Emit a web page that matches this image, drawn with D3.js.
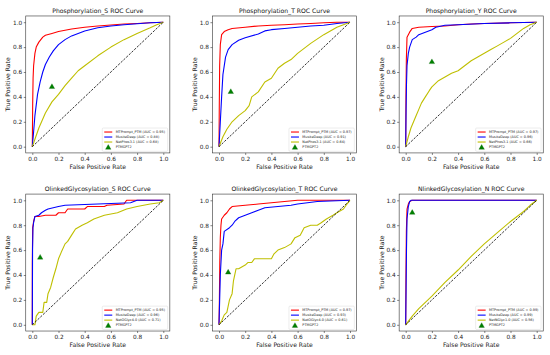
<!DOCTYPE html>
<html>
<head>
<meta charset="utf-8">
<script src="https://cdn.jsdelivr.net/npm/d3@7"></script>
<style>
body { margin: 0; background: #fff; }
text { font-family: "DejaVu Sans", sans-serif; }
</style>
</head>
<body>
<div id="chart"></div>
<script>
var titles = ["Phosphorylation_S ROC Curve", "Phosphorylation_T ROC Curve", "Phosphorylation_Y ROC Curve",
              "OlinkedGlycosylation_S ROC Curve", "OlinkedGlycosylation_T ROC Curve", "NlinkedGlycosylation_N ROC Curve"];
var baselineNames = ["NetPhos3.1", "NetPhos3.1", "NetPhos3.1", "NetOGlyc4.0", "NetOGlyc4.0", "NetNGlyc1.0"];
var mtpromptAuc = [0.95, 0.97, 0.97, 0.95, 0.97, 0.99];
var musiteAuc = [0.88, 0.91, 0.96, 0.96, 0.93, 0.99];
var baselineAuc = [0.68, 0.64, 0.66, 0.71, 0.61, 0.56];
var ptmgpt2Points = [[0.15, 0.48], [0.09, 0.44], [0.2, 0.68], [0.06, 0.54], [0.07, 0.42], [0.05, 0.9]];
var tickValues = [0, 0.2, 0.4, 0.6, 0.8, 1.0];

// [fpr, tpr]
var phosS_mtprompt = [[0,0],[0.003,0.35],[0.006,0.55],[0.01,0.65],[0.02,0.75],[0.03,0.8],[0.05,0.84],[0.08,0.88],[0.1,0.895],[0.15,0.91],[0.2,0.925],[0.3,0.945],[0.4,0.96],[0.5,0.97],[0.6,0.978],[0.7,0.985],[0.8,0.99],[0.9,0.995],[1,1]];
var phosS_musite = [[0,0],[0.01,0.12],[0.02,0.25],[0.04,0.42],[0.06,0.52],[0.08,0.6],[0.1,0.66],[0.13,0.72],[0.16,0.77],[0.2,0.82],[0.25,0.86],[0.3,0.89],[0.4,0.93],[0.5,0.955],[0.6,0.97],[0.7,0.98],[0.8,0.988],[0.9,0.995],[1,1]];
var phosS_base = [[0,0],[0.02,0.06],[0.05,0.15],[0.1,0.27],[0.15,0.36],[0.2,0.42],[0.25,0.49],[0.3,0.55],[0.35,0.61],[0.4,0.65],[0.5,0.73],[0.6,0.8],[0.7,0.86],[0.8,0.91],[0.9,0.955],[0.95,0.98],[1,1]];

var phosT_mtprompt = [[0,0],[0.002,0.3],[0.005,0.65],[0.01,0.82],[0.02,0.9],[0.04,0.925],[0.07,0.94],[0.1,0.95],[0.2,0.96],[0.3,0.97],[0.4,0.975],[0.5,0.98],[0.6,0.985],[0.7,0.99],[0.8,0.995],[0.9,1],[1,1]];
var phosT_musite = [[0,0],[0.01,0.2],[0.02,0.4],[0.03,0.58],[0.05,0.72],[0.07,0.78],[0.1,0.82],[0.15,0.855],[0.2,0.875],[0.3,0.905],[0.35,0.93],[0.4,0.94],[0.5,0.95],[0.6,0.96],[0.7,0.97],[0.8,0.975],[0.9,0.99],[1,1]];
var phosT_base = [[0,0],[0.03,0.08],[0.06,0.14],[0.1,0.2],[0.15,0.25],[0.2,0.29],[0.23,0.33],[0.25,0.4],[0.3,0.44],[0.35,0.52],[0.4,0.55],[0.45,0.63],[0.5,0.67],[0.55,0.7],[0.6,0.75],[0.65,0.79],[0.7,0.83],[0.8,0.9],[0.9,0.96],[0.95,0.98],[1,1]];

var phosY_mtprompt = [[0,0],[0.002,0.4],[0.005,0.7],[0.01,0.88],[0.02,0.9],[0.03,0.92],[0.05,0.95],[0.1,0.96],[0.2,0.965],[0.3,0.97],[0.4,0.98],[0.5,0.985],[0.6,0.99],[0.8,0.995],[1,1]];
var phosY_musite = [[0,0],[0.003,0.3],[0.006,0.5],[0.01,0.65],[0.02,0.75],[0.03,0.8],[0.05,0.86],[0.08,0.88],[0.1,0.9],[0.15,0.92],[0.2,0.94],[0.23,0.96],[0.3,0.975],[0.4,0.98],[0.6,0.99],[0.8,0.995],[1,1]];
var phosY_base = [[0,0],[0.02,0.08],[0.04,0.15],[0.06,0.2],[0.08,0.25],[0.1,0.3],[0.12,0.35],[0.15,0.4],[0.18,0.45],[0.2,0.48],[0.22,0.5],[0.25,0.53],[0.3,0.56],[0.35,0.59],[0.4,0.61],[0.45,0.65],[0.5,0.69],[0.55,0.72],[0.6,0.75],[0.65,0.78],[0.7,0.81],[0.75,0.84],[0.8,0.87],[0.85,0.91],[0.9,0.95],[0.95,0.98],[1,1]];

var oglycS_mtprompt = [[0,0],[0,0.5],[0.003,0.78],[0.01,0.83],[0.02,0.87],[0.05,0.87],[0.1,0.88],[0.18,0.88],[0.2,0.9],[0.25,0.9],[0.27,0.93],[0.4,0.93],[0.42,0.95],[0.55,0.95],[0.57,0.96],[0.7,0.97],[0.72,1],[1,1]];
var oglycS_musite = [[0,0],[0.002,0.6],[0.005,0.78],[0.01,0.82],[0.02,0.87],[0.05,0.88],[0.07,0.9],[0.1,0.92],[0.12,0.93],[0.2,0.95],[0.25,0.96],[0.5,0.97],[0.75,0.98],[0.8,1],[1,1]];
var oglycS_base = [[0,0],[0.02,0],[0.03,0.07],[0.05,0.1],[0.08,0.1],[0.09,0.18],[0.11,0.18],[0.12,0.25],[0.14,0.3],[0.16,0.38],[0.18,0.45],[0.2,0.53],[0.22,0.58],[0.25,0.65],[0.27,0.67],[0.3,0.72],[0.33,0.77],[0.38,0.8],[0.42,0.82],[0.47,0.85],[0.55,0.88],[0.65,0.9],[0.72,0.93],[0.8,0.95],[0.9,0.97],[0.97,0.98],[1,1]];

var oglycT_mtprompt = [[0,0],[0.003,0.2],[0.006,0.5],[0.01,0.7],[0.015,0.8],[0.02,0.85],[0.04,0.88],[0.06,0.9],[0.08,0.93],[0.1,0.95],[0.2,0.96],[0.3,0.97],[0.4,0.98],[0.5,0.99],[0.6,1],[1,1]];
var oglycT_musite = [[0,0],[0.005,0.2],[0.01,0.4],[0.02,0.6],[0.03,0.65],[0.04,0.75],[0.08,0.78],[0.1,0.8],[0.12,0.83],[0.15,0.86],[0.2,0.88],[0.25,0.9],[0.3,0.92],[0.35,0.94],[0.45,0.95],[0.55,0.96],[0.6,0.97],[0.75,0.99],[1,1]];
var oglycT_base = [[0,0],[0.02,0.03],[0.04,0.08],[0.06,0.1],[0.08,0.2],[0.1,0.25],[0.11,0.35],[0.13,0.45],[0.15,0.45],[0.2,0.48],[0.22,0.5],[0.25,0.5],[0.27,0.53],[0.4,0.53],[0.42,0.57],[0.45,0.6],[0.5,0.62],[0.55,0.65],[0.58,0.7],[0.62,0.72],[0.65,0.78],[0.7,0.8],[0.75,0.8],[0.78,0.82],[0.82,0.85],[0.87,0.88],[0.9,0.9],[0.95,0.93],[0.97,0.96],[1,1]];

var nglycN_mtprompt = [[0,0],[0.002,0.4],[0.005,0.75],[0.01,0.93],[0.02,0.97],[0.03,0.99],[0.05,1],[1,1]];
var nglycN_musite = [[0,0],[0.003,0.3],[0.006,0.6],[0.01,0.85],[0.02,0.95],[0.03,0.99],[0.04,1],[1,1]];
var nglycN_base = [[0,0],[0.05,0.07],[0.1,0.13],[0.2,0.23],[0.3,0.34],[0.4,0.44],[0.5,0.55],[0.6,0.65],[0.7,0.74],[0.8,0.83],[0.9,0.91],[0.95,0.96],[1,1]];

var mtpromptCurves = [phosS_mtprompt, phosT_mtprompt, phosY_mtprompt, oglycS_mtprompt, oglycT_mtprompt, nglycN_mtprompt];
var musiteCurves = [phosS_musite, phosT_musite, phosY_musite, oglycS_musite, oglycT_musite, nglycN_musite];
var baselineCurves = [phosS_base, phosT_base, phosY_base, oglycS_base, oglycT_base, nglycN_base];

var colX0 = [32.3, 219, 405.7];
var rowY1 = [22.2, 200.3];
var plotW = 131, plotH = 124.5;
var fontTick = 5.8, fontMain = 6.1, fontLegend = 3.4;

var svg = d3.select("#chart").append("svg")
    .attr("width", 550)
    .attr("height", 355);

rocVis = function(_svg, _index) {
    this.svg = _svg;
    this.index = _index;
    this.x0 = colX0[_index % 3];
    this.y1 = rowY1[Math.floor(_index / 3)];
    this.initVis();
}

rocVis.prototype.initVis = function() {
    var vis = this;
    var i = vis.index;
    vis.x = d3.scaleLinear().domain([0, 1]).range([vis.x0, vis.x0 + plotW]);
    vis.y = d3.scaleLinear().domain([0, 1]).range([vis.y1 + plotH, vis.y1]);
    vis.left = vis.x(-0.05); vis.right = vis.x(1.05);
    vis.top = vis.y(1.05); vis.bottom = vis.y(-0.05);

    vis.g = vis.svg.append("g");

    var xAxis = d3.axisBottom(vis.x).tickValues(tickValues).tickSize(2).tickPadding(1.8).tickFormat(d3.format(".1f"));
    var yAxis = d3.axisLeft(vis.y).tickValues(tickValues).tickSize(2).tickPadding(1.5).tickFormat(d3.format(".1f"));
    [[xAxis, "translate(0," + vis.bottom + ")"], [yAxis, "translate(" + vis.left + ",0)"]].forEach(function(a) {
        var ax = vis.g.append("g").attr("transform", a[1]).call(a[0])
            .attr("font-size", fontTick).attr("font-family", "DejaVu Sans");
        ax.select(".domain").remove();
        ax.selectAll(".tick line").attr("stroke", "#333").attr("stroke-width", 0.6);
        ax.selectAll(".tick text").attr("fill", "#222");
    });

    var line = d3.line().x(function(d) { return vis.x(d[0]); }).y(function(d) { return vis.y(d[1]); });
    var series = [[mtpromptCurves[i], "red"], [musiteCurves[i], "blue"], [baselineCurves[i], "#bfbf00"]];
    series.forEach(function(s) {
        vis.g.append("path").datum(s[0]).attr("d", line)
            .attr("fill", "none").attr("stroke", s[1]).attr("stroke-width", 1.1)
            .attr("stroke-linejoin", "round");
    });

    var tri = d3.symbol().type(d3.symbolTriangle).size(13);
    vis.g.append("path").attr("d", tri)
        .attr("transform", "translate(" + vis.x(ptmgpt2Points[i][0]) + "," + vis.y(ptmgpt2Points[i][1]) + ")")
        .attr("fill", "green").attr("stroke", "#0b6b0b").attr("stroke-width", 0.3);

    vis.g.append("path").datum([[0, 0], [1, 1]]).attr("d", line)
        .attr("fill", "none").attr("stroke", "#000").attr("stroke-width", 0.8)
        .attr("stroke-dasharray", "2.4,1.3");

    vis.g.append("rect")
        .attr("x", vis.left).attr("y", vis.top)
        .attr("width", vis.right - vis.left).attr("height", vis.bottom - vis.top)
        .attr("fill", "none").attr("stroke", "#333").attr("stroke-width", 0.6);

    vis.g.append("text").attr("x", vis.x(0.5)).attr("y", vis.top - 2.6)
        .attr("text-anchor", "middle").attr("font-size", fontMain).attr("fill", "#111")
        .text(titles[i]);
    vis.g.append("text").attr("x", vis.x(0.5)).attr("y", vis.bottom + 15.6)
        .attr("text-anchor", "middle").attr("font-size", fontMain).attr("fill", "#222")
        .text("False Positive Rate");
    vis.g.append("text")
        .attr("transform", "translate(" + (vis.left - 15.6) + "," + vis.y(0.5) + ") rotate(-90)")
        .attr("text-anchor", "middle").attr("font-size", fontMain).attr("fill", "#222")
        .text("True Positive Rate");

    vis.drawLegend();
}

rocVis.prototype.drawLegend = function() {
    var vis = this;
    var i = vis.index;
    var w = 65.4, h = 23.3;
    var lx = vis.right - 2.2 - w, ly = vis.bottom - 1.6 - h;
    var lg = vis.g.append("g").attr("transform", "translate(" + lx + "," + ly + ")");
    lg.append("rect").attr("width", w).attr("height", h).attr("rx", 1)
        .attr("fill", "#fff").attr("fill-opacity", 0.8)
        .attr("stroke", "#d0d0d0").attr("stroke-width", 0.4);

    var items = [
        ["MTPrompt_PTM (AUC = " + mtpromptAuc[i].toFixed(2) + ")", "red", 4],
        ["MusiteDeep (AUC = " + musiteAuc[i].toFixed(2) + ")", "blue", 9],
        [baselineNames[i] + " (AUC = " + baselineAuc[i].toFixed(2) + ")", "#bfbf00", 14]
    ];
    items.forEach(function(it) {
        lg.append("line").attr("x1", 2).attr("x2", 10).attr("y1", it[2]).attr("y2", it[2])
            .attr("stroke", it[1]).attr("stroke-width", 1.1);
        lg.append("text").attr("x", 13.4).attr("y", it[2]).attr("dy", "0.35em")
            .attr("font-size", fontLegend).attr("fill", "#222").text(it[0]);
    });
    lg.append("path").attr("d", d3.symbol().type(d3.symbolTriangle).size(13))
        .attr("transform", "translate(6,19.7)")
        .attr("fill", "green").attr("stroke", "#0b6b0b").attr("stroke-width", 0.3);
    lg.append("text").attr("x", 13.4).attr("y", 18.6).attr("dy", "0.35em")
        .attr("font-size", fontLegend).attr("fill", "#222").text("PTMGPT2");
}

for (var k = 0; k < 6; k++) {
    new rocVis(svg, k);
}
</script>
</body>
</html>
